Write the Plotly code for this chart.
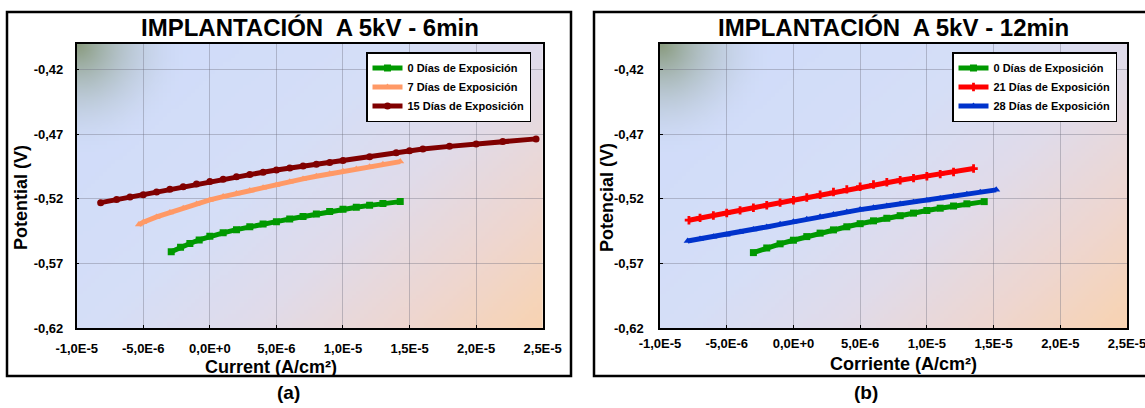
import base64
import struct
import zlib
import plotly.graph_objects as go

# ---------------- data ----------------
x_ticks = [-1.0e-5, -5.0e-6, 0.0, 5.0e-6, 1.0e-5, 1.5e-5, 2.0e-5, 2.5e-5]
x_tick_labels = ["-1,0E-5", "-5,0E-6", "0,0E+0", "5,0E-6", "1,0E-5", "1,5E-5", "2,0E-5", "2,5E-5"]
y_ticks = [-0.62, -0.57, -0.52, -0.47, -0.42]
y_tick_labels = ["-0,62", "-0,57", "-0,52", "-0,47", "-0,42"]

# Panel (a) 6 min
a0_x = [-2.9e-6, -2.2e-6, -1.5e-6, -0.8e-6, 0.0, 1e-6, 2e-6, 3e-6, 4e-6, 5e-6, 6e-6, 7e-6,
        8e-6, 9e-6, 1.0e-5, 1.1e-5, 1.2e-5, 1.3e-5, 1.43e-5]
a0_y = [-0.5609, -0.5575, -0.5545, -0.5518, -0.5490, -0.5463, -0.5438, -0.5415, -0.5395, -0.5376,
        -0.5356, -0.5336, -0.5316, -0.5297, -0.5280, -0.5265, -0.5250, -0.5236, -0.5221]

a7_x = [-5.33e-6, -5e-6, -4e-6, -3e-6, -2e-6, -1e-6, 0.0, 1e-6, 2e-6, 3e-6, 4e-6, 5e-6, 6e-6,
        7e-6, 8e-6, 9e-6, 1.0e-5, 1.1e-5, 1.2e-5, 1.3e-5, 1.43e-5]
a7_y = [-0.5399, -0.5381, -0.5340, -0.5305, -0.5272, -0.5240, -0.5208, -0.5182, -0.5158, -0.5135,
        -0.5113, -0.5092, -0.5068, -0.5045, -0.5024, -0.5005, -0.4986, -0.4968, -0.4950, -0.4932,
        -0.4911]

a15_x = [-8.2e-6, -7e-6, -6e-6, -5e-6, -4e-6, -3e-6, -2e-6, -1e-6, 0.0, 1e-6, 2e-6, 3e-6, 4e-6,
         5e-6, 6e-6, 7e-6, 8e-6, 9e-6, 1.0e-5, 1.2e-5, 1.4e-5, 1.5e-5, 1.6e-5, 1.8e-5, 2.0e-5,
         2.2e-5, 2.45e-5]
a15_y = [-0.5229, -0.5205, -0.5186, -0.5167, -0.5146, -0.5125, -0.5105, -0.5085, -0.5066, -0.5047,
         -0.5029, -0.5011, -0.4993, -0.4976, -0.4961, -0.4946, -0.4932, -0.4917, -0.4903, -0.4873,
         -0.4842, -0.4826, -0.4814, -0.4793, -0.4774, -0.4756, -0.4735]

# Panel (b) 12 min
b0_x = [-3.0e-6, -2e-6, -1e-6, 0.0, 1e-6, 2e-6, 3e-6, 4e-6, 5e-6, 6e-6, 7e-6, 8e-6, 9e-6,
        1.0e-5, 1.1e-5, 1.2e-5, 1.3e-5, 1.43e-5]
b0_y = [-0.5616, -0.5580, -0.5548, -0.5520, -0.5492, -0.5465, -0.5440, -0.5416, -0.5392, -0.5370,
        -0.5350, -0.5330, -0.5310, -0.5290, -0.5272, -0.5255, -0.5238, -0.5221]

b21_x = [-7.83e-6, -7e-6, -6e-6, -5e-6, -4e-6, -3e-6, -2e-6, -1e-6, 0.0, 1e-6, 2e-6, 3e-6, 4e-6,
         5e-6, 6e-6, 7e-6, 8e-6, 9e-6, 1.0e-5, 1.1e-5, 1.2e-5, 1.35e-5]
b21_y = [-0.5365, -0.5347, -0.5328, -0.5309, -0.5289, -0.5269, -0.5249, -0.5229, -0.5210, -0.5189,
         -0.5168, -0.5147, -0.5126, -0.5106, -0.5088, -0.5071, -0.5055, -0.5039, -0.5024, -0.5008,
         -0.4991, -0.4965]

b28_x = [-7.93e-6, -7e-6, -6e-6, -5e-6, -4e-6, -3e-6, -2e-6, -1e-6, 0.0, 1e-6, 2e-6, 3e-6, 4e-6,
         5e-6, 6e-6, 7e-6, 8e-6, 9e-6, 1.0e-5, 1.1e-5, 1.2e-5, 1.3e-5, 1.4e-5, 1.52e-5]
b28_y = [-0.5526, -0.5510, -0.5494, -0.5477, -0.5457, -0.5437, -0.5417, -0.5397, -0.5377, -0.5358,
         -0.5339, -0.5320, -0.5301, -0.5283, -0.5268, -0.5254, -0.5240, -0.5226, -0.5212, -0.5196,
         -0.5180, -0.5164, -0.5148, -0.5130]

W, H = 1145, 408
FONT = "Liberation Sans, Arial, sans-serif"


# ---------------- gradient background as an inline PNG ----------------
def gradient_png(w=116, h=72):
    stops = [(0.0, (206, 219, 250)), (0.42, (213, 222, 247)), (0.62, (224, 219, 234)),
             (0.82, (238, 214, 208)), (1.0, (248, 211, 178))]
    corner = (138, 156, 128)

    def base(t):
        for k in range(len(stops) - 1):
            t0, c0 = stops[k]
            t1, c1 = stops[k + 1]
            if t <= t1:
                f = (t - t0) / (t1 - t0)
                return [c0[i] + (c1[i] - c0[i]) * f for i in range(3)]
        return list(stops[-1][1])

    raw = bytearray()
    for j in range(h):
        v = j / (h - 1)
        raw.append(0)
        for i in range(w):
            u = i / (w - 1)
            c = base(0.6 * u + 0.4 * v)
            d = ((u * 465) ** 2 + (v * 284) ** 2) ** 0.5
            wgt = max(0.0, 1 - d / 110.0) ** 1.9
            px = [int(round(c[k] * (1 - wgt) + corner[k] * wgt)) for k in range(3)]
            raw.extend(px)

    def chunk(tag, data):
        return (struct.pack(">I", len(data)) + tag + data
                + struct.pack(">I", zlib.crc32(tag + data) & 0xFFFFFFFF))

    png = (b"\x89PNG\r\n\x1a\n"
           + chunk(b"IHDR", struct.pack(">IIBBBBB", w, h, 8, 2, 0, 0, 0))
           + chunk(b"IDAT", zlib.compress(bytes(raw), 9))
           + chunk(b"IEND", b""))
    return "data:image/png;base64," + base64.b64encode(png).decode()


bg_src = gradient_png()

fig = go.Figure()


def add_series(x, y, name, color, symbol, xa, ya, legend, msize=7):
    fig.add_trace(go.Scatter(
        x=x, y=y, name=name, mode="lines+markers",
        line=dict(color=color, width=5),
        marker=dict(color=color, symbol=symbol, size=msize, line=dict(width=0)),
        xaxis=xa, yaxis=ya, legend=legend))


add_series(a0_x, a0_y, "0 Días de Exposición", "#009900", "square", "x", "y", "legend")
add_series(a7_x, a7_y, "7 Días de Exposición", "#ff9966", "triangle-up", "x", "y", "legend")
add_series(a15_x, a15_y, "15 Días de Exposición", "#800000", "circle", "x", "y", "legend")
add_series(b0_x, b0_y, "0 Días de Exposición", "#009900", "square", "x2", "y2", "legend2")
add_series(b21_x, b21_y, "21 Días de Exposición", "#ff0000", "cross", "x2", "y2", "legend2")
add_series(b28_x, b28_y, "28 Días de Exposición", "#0033cc", "triangle-up", "x2", "y2", "legend2")

# plot-area pixel boxes
A_L, A_R = 76.7, 542.7
B_L, B_R = 660.0, 1127.0
P_T, P_B = 44.0, 328.0
y_dom = [(H - P_B) / H, (H - P_T) / H]

tickfont = dict(family=FONT, size=13, color="black", weight="bold")
grid = "rgba(110,110,125,0.38)"


def xaxis(dom, anchor, standoff):
    return dict(domain=dom, anchor=anchor, range=[-1.0e-5, 2.5e-5], tickvals=x_ticks,
                ticktext=x_tick_labels, showgrid=True, gridcolor=grid, gridwidth=1,
                zeroline=False, showline=True, linecolor="black", linewidth=1.5, mirror=True,
                ticks="inside", ticklen=3, tickcolor="black", tickfont=tickfont,
                ticklabelstandoff=standoff, ticklabeloverflow="allow", automargin=False)


def yaxis(anchor, standoff):
    return dict(domain=y_dom, anchor=anchor, range=[-0.62, -0.40], tickvals=y_ticks,
                ticktext=y_tick_labels, showgrid=True, gridcolor=grid, gridwidth=1,
                zeroline=False, showline=True, linecolor="black", linewidth=1.5, mirror=True,
                ticks="inside", ticklen=3, tickcolor="black", tickfont=tickfont,
                ticklabelstandoff=standoff, automargin=False)


legend_style = dict(bgcolor="white", bordercolor="black", borderwidth=1.5,
                    font=dict(family=FONT, size=11, color="black", weight="bold"),
                    xanchor="right", yanchor="top", itemwidth=30, tracegroupgap=0)

fig.update_layout(
    template="none",
    width=W, height=H, autosize=False,
    margin=dict(l=0, r=0, t=0, b=0, pad=0, autoexpand=False),
    paper_bgcolor="white", plot_bgcolor="rgba(0,0,0,0)",
    font=dict(family=FONT, color="black"),
    xaxis=xaxis([A_L / W, A_R / W], "y", 8),
    yaxis=yaxis("x", 9),
    xaxis2=xaxis([B_L / W, B_R / W], "y2", 3),
    yaxis2=yaxis("x2", 12),
    legend=dict(x=531 / W, y=1 - 52 / H, **legend_style),
    legend2=dict(x=1117 / W, y=1 - 52 / H, **legend_style),
    images=[
        dict(source=bg_src, xref="x domain", yref="y domain", x=0, y=1, sizex=1, sizey=1,
             sizing="stretch", layer="below"),
        dict(source=bg_src, xref="x2 domain", yref="y2 domain", x=0, y=1, sizex=1, sizey=1,
             sizing="stretch", layer="below"),
    ],
    shapes=[
        dict(type="rect", xref="paper", yref="paper", x0=7 / W, x1=571 / W,
             y0=1 - 376 / H, y1=1 - 12 / H, line=dict(color="black", width=2.5)),
        dict(type="rect", xref="paper", yref="paper", x0=594 / W, x1=1160 / W,
             y0=1 - 376 / H, y1=1 - 12 / H, line=dict(color="black", width=2.5)),
    ],
)


def text(x, y, s, size, bold=True, angle=0):
    fig.add_annotation(x=x / W, y=1 - y / H, xref="paper", yref="paper", text=s,
                       showarrow=False, textangle=angle, xanchor="center", yanchor="middle",
                       font=dict(family=FONT, size=size, color="black",
                                 weight="bold" if bold else "normal"))


text((A_L + A_R) / 2, 28, "IMPLANTACIÓN  A 5kV - 6min", 24)
text((B_L + B_R) / 2, 28, "IMPLANTACIÓN  A 5kV - 12min", 24)
text(271, 367, "Current (A/cm²)", 18)
text(903, 364, "Corriente (A/cm²)", 18)
text(21, 198, "Potential (V)", 18, angle=-90)
text(607, 198, "Potencial (V)", 18, angle=-90)
text(288, 392, "(a)", 19)
text(866, 392, "(b)", 19)

fig.write_html("out.html")
